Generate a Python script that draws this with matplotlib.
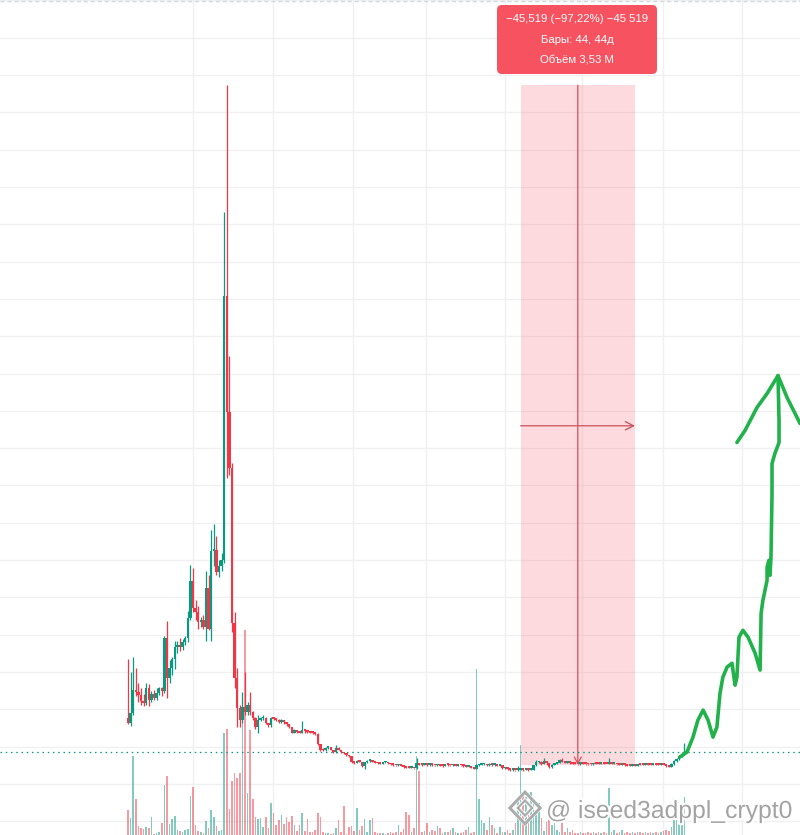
import matplotlib
matplotlib.use('Agg')
import matplotlib.pyplot as plt
import matplotlib.patheffects as pe
from matplotlib.patches import Rectangle, FancyBboxPatch, RegularPolygon
import numpy as np

UP = '#089981'
DOWN = '#F23645'
SKETCH = '#22b24c'

# ---------- daily candles (price), bar index 0 = first visible day ----------
first_open = 4.4
closes = [
    4.1, 4.75, 6.3, 6.15, 5.95, 5.55, 5.4, 6.4, 5.6, 6.0,
    5.75, 6.1, 6.4, 6.2, 9.8, 7.1, 7.8, 8.4, 9.2, 9.3,
    9.2, 9.5, 9.75, 11.1, 13.6, 11.8, 11.5, 10.85, 11.0, 10.5,
    13.1, 10.4, 15.6, 15.7, 14.2, 14.6, 15.0, 32.7, 24.9, 21.2,
    10.77, 7.09, 5.1, 4.28, 5.15, 4.8, 5.3, 4.8, 4.4, 3.8,
    4.28, 4.4, 4.45, 4.1, 3.95, 4.42, 4.35, 4.3, 4.15, 4.3,
    4.15, 4.0, 3.8, 3.45, 3.6, 3.5, 3.45, 3.65, 3.55, 3.5,
    3.45, 3.42, 3.35, 2.65, 2.3, 2.25, 2.4, 2.45, 2.3, 2.15,
    2.4, 2.3, 2.15, 2.05, 1.95, 1.85, 1.45, 1.4, 1.55, 1.5,
    1.2, 1.45, 1.55, 1.6, 1.5, 1.42, 1.38, 1.36, 1.45, 1.48,
    1.38, 1.32, 1.27, 1.24, 1.28, 1.22, 1.12, 1.1, 1.08, 1.1,
    1.05, 1.38, 1.3, 1.27, 1.3, 1.26, 1.3, 1.27, 1.25, 1.28,
    1.22, 1.2, 1.3, 1.27, 1.25, 1.28, 1.23, 1.3, 1.25, 1.2,
    1.17, 1.2, 1.08, 1.02, 1.25, 1.3, 1.32, 1.35, 1.25, 1.35,
    1.27, 1.3, 1.22, 1.25, 1.05, 1.08, 1.0, 0.92, 0.94, 0.92,
    0.97, 1.0, 0.95, 0.98, 0.94, 0.97, 1.27, 1.45, 1.5, 1.35,
    1.55, 1.38, 1.12, 1.3, 1.35, 1.42, 1.6, 1.5, 1.42, 1.45,
    1.4, 1.37, 1.35, 1.33, 1.36, 1.35, 1.33, 1.32, 1.31, 1.36,
    1.35, 1.34, 1.36, 1.35, 1.34, 1.4, 1.35, 1.36, 1.32, 1.3,
    1.31, 1.26, 1.23, 1.22, 1.24, 1.22, 1.33, 1.3, 1.29, 1.31,
    1.3, 1.29, 1.31, 1.29, 1.28, 1.31, 1.27, 1.21, 1.15, 1.33,
    1.52, 1.65, 1.85, 2.0, 2.14,
]
highs = [
    8.4, 7.5, 8.5, 7.8, 6.8, 6.4, 6.0, 6.8, 6.7, 6.2,
    6.3, 6.4, 6.5, 6.5, 9.9, 10.9, 8.3, 8.5, 9.6, 9.6,
    9.8, 9.7, 9.9, 11.6, 14.65, 14.5, 12.3, 11.9, 11.2, 11.3,
    14.3, 14.0, 17.0, 17.4, 16.6, 15.0, 15.5, 38.3, 46.8, 28.7,
    21.5, 11.5, 7.8, 5.3, 6.15, 7.5, 5.5, 6.15, 4.9, 4.5,
    4.6, 4.5, 4.6, 4.5, 4.1, 4.5, 4.5, 4.4, 4.35, 4.35,
    4.3, 4.15, 4.0, 3.85, 3.7, 3.65, 3.55, 4.2, 3.7, 3.6,
    3.55, 3.5, 3.45, 3.4, 2.7, 2.4, 2.45, 2.5, 2.45, 2.3,
    2.6, 2.45, 2.3, 2.15, 2.05, 1.95, 1.9, 1.5, 1.6, 1.58,
    1.5, 1.5, 1.6, 1.62, 1.6, 1.5, 1.45, 1.4, 1.5, 1.52,
    1.48, 1.38, 1.33, 1.3, 1.32, 1.3, 1.24, 1.15, 1.14, 1.14,
    1.1, 1.75, 1.42, 1.32, 1.34, 1.32, 1.34, 1.32, 1.3, 1.32,
    1.3, 1.26, 1.33, 1.32, 1.3, 1.32, 1.3, 1.33, 1.3, 1.27,
    1.22, 1.24, 1.2, 1.1, 1.35, 1.35, 1.36, 1.38, 1.35, 1.4,
    1.36, 1.34, 1.3, 1.28, 1.25, 1.12, 1.08, 1.0, 0.98, 0.96,
    1.2, 1.05, 1.0, 1.02, 0.98, 1.0, 1.3, 1.6, 1.55, 1.52,
    1.75, 1.55, 1.38, 1.35, 1.4, 1.45, 1.65, 1.75, 1.52, 1.48,
    1.46, 1.42, 1.4, 1.37, 1.4, 1.4, 1.37, 1.35, 1.34, 1.4,
    1.39, 1.38, 1.38, 1.38, 1.37, 1.74, 1.42, 1.4, 1.37, 1.34,
    1.34, 1.31, 1.28, 1.26, 1.27, 1.26, 1.36, 1.35, 1.33, 1.34,
    1.33, 1.32, 1.34, 1.33, 1.31, 1.34, 1.32, 1.28, 1.22, 1.38,
    1.6, 1.75, 1.95, 2.15, 2.75,
]
lows = [
    4.0, 3.9, 4.6, 5.9, 5.5, 5.3, 5.2, 5.3, 5.2, 5.5,
    5.6, 5.6, 5.95, 5.9, 6.1, 5.75, 6.8, 7.3, 7.7, 8.8,
    8.9, 9.0, 9.3, 9.5, 11.0, 11.5, 11.0, 10.4, 10.5, 10.4,
    9.6, 10.3, 9.6, 14.6, 14.0, 13.9, 14.3, 14.8, 20.5, 20.7,
    10.17, 6.4, 3.8, 3.8, 4.1, 4.6, 4.6, 4.6, 4.3, 3.7,
    3.4, 4.2, 4.3, 4.0, 3.85, 3.8, 4.3, 4.2, 4.1, 4.1,
    4.05, 3.9, 3.75, 3.4, 3.4, 3.4, 3.4, 3.4, 3.45, 3.42,
    3.4, 3.35, 3.3, 2.6, 2.2, 2.2, 2.22, 2.35, 2.25, 2.1,
    2.1, 2.25, 2.1, 2.0, 1.9, 1.8, 1.4, 1.35, 1.38, 1.45,
    1.15, 1.0, 1.42, 1.5, 1.45, 1.38, 1.33, 1.32, 1.32, 1.42,
    1.33, 1.28, 1.22, 1.2, 1.2, 1.18, 1.08, 1.05, 1.05, 1.04,
    1.0, 1.02, 1.25, 1.22, 1.24, 1.22, 1.22, 1.22, 1.2, 1.2,
    1.18, 1.16, 1.18, 1.22, 1.2, 1.2, 1.2, 1.2, 1.2, 1.15,
    1.12, 1.12, 1.05, 0.98, 0.98, 1.22, 1.25, 1.28, 1.2, 1.22,
    1.22, 1.22, 1.18, 1.18, 1.0, 1.02, 0.95, 0.88, 0.88, 0.88,
    0.9, 0.94, 0.9, 0.92, 0.9, 0.92, 0.94, 1.22, 1.42, 1.3,
    1.32, 1.3, 1.1, 1.1, 1.28, 1.33, 1.4, 1.45, 1.38, 1.4,
    1.36, 1.33, 1.32, 1.3, 1.3, 1.32, 1.3, 1.29, 1.28, 1.3,
    1.32, 1.32, 1.32, 1.33, 1.31, 1.32, 1.32, 1.32, 1.3, 1.27,
    1.26, 1.22, 1.2, 1.19, 1.2, 1.19, 1.2, 1.27, 1.26, 1.27,
    1.27, 1.26, 1.27, 1.26, 1.25, 1.26, 1.24, 1.17, 1.12, 1.12,
    1.3, 1.5, 1.6, 1.8, 1.95,
]
volume = [
    25, 17, 79, 36, 9, 7, 6, 8, 7, 18,
    1, 2, 3, 12, 50, 59, 11, 16, 19, 5,
    4, 3, 5, 6, 39, 48, 10, 4, 3, 2,
    14, 7, 25, 18, 9, 4, 5, 102, 106, 26,
    54, 62, 57, 62, 134, 205, 42, 105, 36, 18,
    16, 17, 8, 18, 7, 32, 22, 10, 15, 20,
    11, 18, 13, 19, 10, 4, 10, 22, 4, 16,
    3, 3, 5, 22, 18, 3, 2, 2, 1, 2,
    7, 15, 3, 29, 1, 8, 9, 4, 27, 5,
    9, 16, 3, 15, 17, 3, 2, 2, 2, 1,
    2, 3, 2, 3, 10, 3, 6, 23, 20, 3,
    7, 79, 64, 3, 4, 12, 3, 5, 4, 9,
    7, 2, 3, 3, 5, 7, 3, 2, 2, 3,
    5, 8, 2, 3, 166, 36, 15, 12, 5, 18,
    10, 7, 2, 8, 3, 3, 5, 2, 5, 12,
    38, 90, 42, 38, 23, 43, 33, 25, 32, 17,
    4, 13, 18, 10, 18, 5, 3, 23, 3, 7,
    3, 5, 2, 2, 3, 2, 2, 3, 2, 3,
    2, 3, 2, 3, 2, 47, 3, 5, 2, 3,
    5, 2, 3, 2, 3, 2, 3, 3, 2, 3,
    2, 3, 2, 3, 2, 3, 4, 5, 4, 8,
    37, 20, 25, 28, 38,
]

month_starts = [25, 55.8, 86.5, 114.6, 145, 174.6, 205.8, 236.2]
last_price = 2.14

# date-price range tool
range_start, range_end = 151, 195
range_top, range_bottom = 46.82, 1.30
range_labels = ['\u221245,519 (\u221297,22%) \u221245 519',
                'Бары: 44, 44д',
                'Объём 3,53 M']

# hand-drawn forecast arrow (bar index, price)
sketch_x = [212.3, 215.0, 217.3, 219.2, 221.2, 223.1, 225.0, 226.5, 227.7, 228.8,
            230.4, 232.3, 233.5, 234.2, 235.0, 236.5, 238.5, 241.2, 243.1, 243.5,
            244.2, 245.8, 245.8, 246.5, 246.9, 247.3, 247.7, 247.7, 248.8, 250.4,
            250.4, 250.0]
sketch_y = [1.81, 2.14, 3.14, 4.28, 4.95, 4.28, 3.14, 3.81, 6.09, 7.16,
            7.83, 8.09, 6.62, 7.16, 9.83, 10.30, 9.83, 8.76, 7.63, 11.44,
            12.31, 13.65, 14.52, 14.99, 13.98, 15.19, 19.47, 21.47, 22.14, 22.88,
            24.35, 27.36]
head_x = [234.2, 237.3, 241.9, 245.8, 250.0, 253.5, 258.5]
head_y = [22.88, 23.68, 25.22, 26.16, 27.36, 25.89, 24.15]

W, H = 800, 835
PX_PER_BAR = 2.6
PRICE_PER_PX = 0.067
ZERO_ROW = 784          # pixel row (from top) of price 0


def fx(px):
    return px / W


def fy(py):
    return 1 - py / H


fig = plt.figure(figsize=(W / 100, H / 100), dpi=100)
fig.patch.set_facecolor('white')
vax = fig.add_axes([0, 0, 1, 1])
ax = fig.add_axes([0, 0, 1, 1], sharex=vax)
ax.patch.set_visible(False)
for a in (ax, vax):
    a.set_axis_off()

ax.set_xlim(-128 / PX_PER_BAR, (W - 128) / PX_PER_BAR)
ax.set_ylim(-(H - ZERO_ROW) * PRICE_PER_PX, ZERO_ROW * PRICE_PER_PX)
vax.set_ylim(0, H)

idx = np.arange(len(closes))
c = np.array(closes)
o = np.array([first_open] + closes[:-1])
hi = np.maximum(np.array(highs), np.maximum(o, c))
lo = np.minimum(np.array(lows), np.minimum(o, c))
up = c >= o
colors = np.where(up, UP, DOWN)

# grid (drawn on the lower axes so volume sits over it)
for p in np.arange(-2.5, 55, 2.5):
    vax.axhline(H - ZERO_ROW + p / PRICE_PER_PX, color='#f0f0f2', lw=1, zorder=0)
for m in month_starts:
    vax.axvline(m, color='#f0f0f2', lw=1, zorder=0)
ax.axhline(ZERO_ROW * PRICE_PER_PX - 0.05, color='#d5d8de', lw=1, dashes=(3, 2), zorder=1)

# volume
vax.bar(idx, volume, width=0.6, color=colors, alpha=0.5, linewidth=0, zorder=1)

# range tool
ax.add_patch(Rectangle((range_start, range_bottom), range_end - range_start,
                       range_top - range_bottom, facecolor=DOWN, alpha=0.18,
                       linewidth=0, zorder=1))
mid = (range_start + range_end) / 2
ax.annotate('', xy=(mid, range_bottom), xytext=(mid, range_top),
            arrowprops=dict(arrowstyle='->,head_length=0.45,head_width=0.25',
                            color='#d9505c', lw=0.9, shrinkA=0, shrinkB=0), zorder=2)
ax.annotate('', xy=(range_end, 24.0), xytext=(range_start, 24.0),
            arrowprops=dict(arrowstyle='->,head_length=0.6,head_width=0.3',
                            color='#c8505c', lw=0.9, shrinkA=0, shrinkB=0), zorder=2)

# last price line
ax.axhline(last_price, color=UP, lw=0.9, dashes=(1.2, 3.0), zorder=2)

# candles
bottoms = np.minimum(o, c)
heights = np.maximum(np.abs(c - o), 0.12)
ax.vlines(idx, lo, hi, colors=colors, linewidth=0.9, zorder=3)
ax.bar(idx, heights, bottom=bottoms, width=0.85, color=colors, linewidth=0, zorder=4)

# hand drawing
kw = dict(color=SKETCH, lw=2.6, solid_capstyle='round', solid_joinstyle='round', zorder=6)
ax.plot(sketch_x, sketch_y, **kw)
ax.plot(head_x, head_y, **kw)

# tooltip
box = FancyBboxPatch((fx(497), fy(74)), fx(160), 69 / H,
                     boxstyle='round,pad=0,rounding_size=0.006',
                     transform=fig.transFigure, facecolor='#F7525F',
                     edgecolor='none', zorder=10)
fig.patches.append(box)
for txt, py in zip(range_labels, [19, 40, 60]):
    fig.text(fx(577), fy(py), txt, ha='center', va='center', color='white',
             fontsize=8.2, family='Liberation Sans', zorder=11)

# watermark
halo = [pe.withStroke(linewidth=3, foreground='white')]
fig.text(fx(546), fy(818), '@ iseed3adppl_crypt0', ha='left', va='baseline',
         fontsize=17.8, family='Liberation Sans', color='#a3a3a3', zorder=12,
         path_effects=halo)
for r, lw in [(0.019, 2.2), (0.009, 1.6)]:
    fig.patches.append(RegularPolygon((fx(525), fy(808)), 4, radius=r,
                                      orientation=0, transform=fig.transFigure,
                                      facecolor='none', edgecolor='#acacac',
                                      lw=lw, zorder=12, path_effects=halo))

fig.savefig('out.png', dpi=100, facecolor='white')
